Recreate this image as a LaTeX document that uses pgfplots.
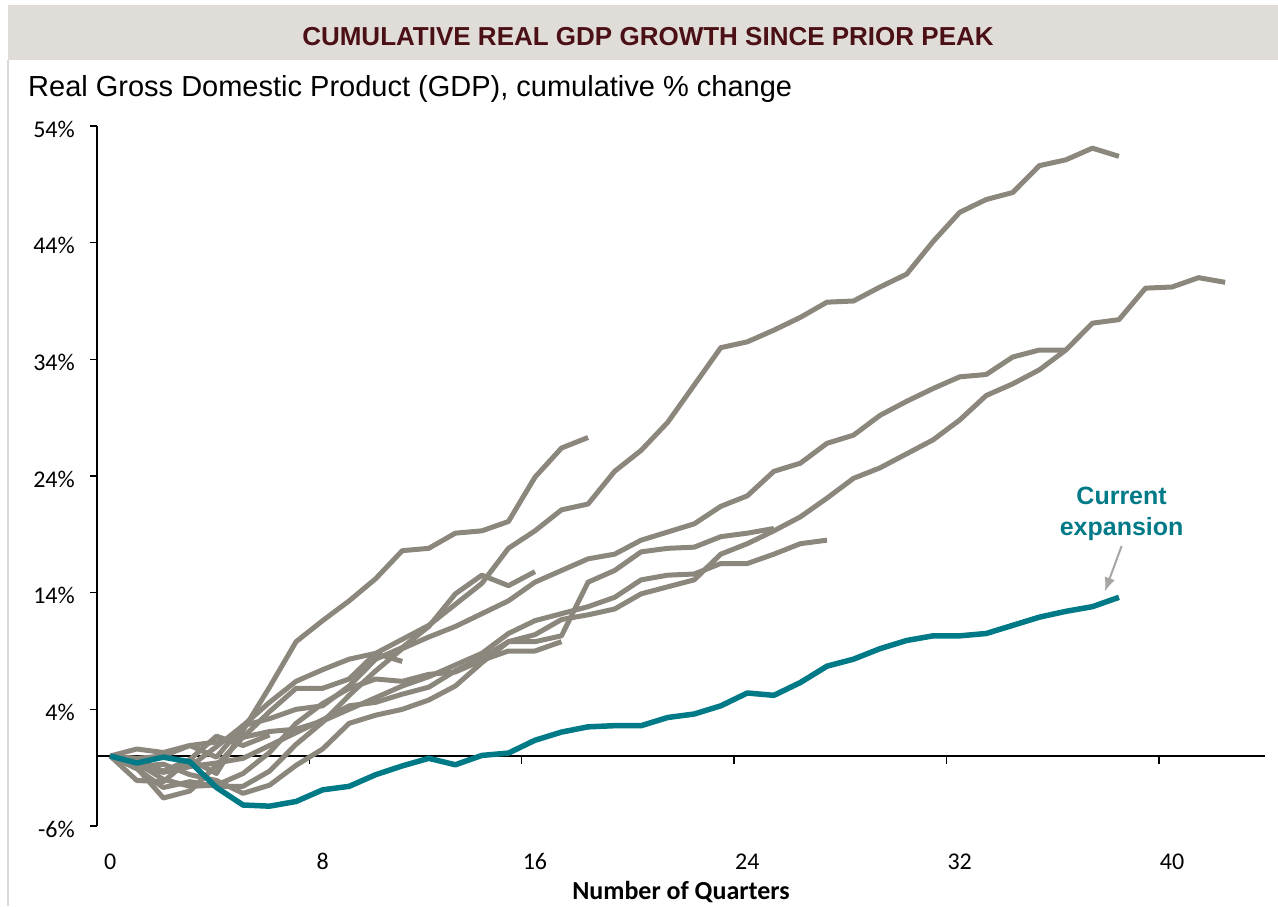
\documentclass[border=0pt]{standalone}
\usepackage{fontspec}
\setmainfont{Liberation Sans}
\newfontfamily\carlito{Carlito}
\usepackage{pgfplots}
\pgfplotsset{compat=1.18}
\usetikzlibrary{arrows.meta}
\definecolor{gline}{HTML}{8C877D}
\definecolor{tealc}{HTML}{007A87}
\definecolor{band}{HTML}{E0DDD9}
\definecolor{maroonc}{HTML}{4B1015}
\definecolor{arrowc}{HTML}{A8A6A2}
\begin{document}
\begin{tikzpicture}[x=1pt,y=1pt]
\path[use as bounding box] (0,0) rectangle (1278,906);
\fill[band] (8,846) rectangle (1278,901);
\draw[black!15, line width=1.5pt] (8,0) -- (8,846);
\node[font=\bfseries\fontsize{26}{26}\selectfont, text=maroonc] at (648,869) {CUMULATIVE REAL GDP GROWTH SINCE PRIOR PEAK};
\node[anchor=base west, font=\fontsize{29}{29}\selectfont, inner sep=0pt] at (28,809) {Real Gross Domestic Product (GDP), cumulative \% change};
\begin{axis}[at={(97pt,80pt)}, anchor=south west, scale only axis,
  width=1168pt, height=700pt,
  xmin=-0.5, xmax=43.5, ymin=-6, ymax=54,
  axis lines*=left,
  x axis line style={draw=none},
  y axis line style={line width=1.5pt},
  xtick={0,8,16,24,32,40}, xticklabels={0,8,16,24,32,40},
  xtick style={draw=none},
  ytick={-6,4,14,24,34,44,54},
  yticklabels={-6\%,4\%,14\%,24\%,34\%,44\%,54\%},
  ytick style={line width=1.5pt, black},
  tick align=outside, major tick length=7pt,
  yticklabel style={font=\carlito\fontsize{24}{24}\selectfont, anchor=east, inner sep=0pt, xshift=-15pt, yshift=-3pt},
  xticklabel style={font=\carlito\fontsize{24}{24}\selectfont, anchor=base, inner sep=0pt, yshift=-36pt},
  xlabel={\carlito\bfseries Number of Quarters},
  xlabel style={font=\fontsize{26}{26}\selectfont, anchor=base, at={(axis description cs:0.5,0)}, yshift=-73pt},
  clip=false,
  every axis plot/.append style={line width=5pt, line join=round, line cap=butt},
]
\draw[black, line width=1.5pt] (axis cs:-0.5,0) -- (axis cs:43.5,0);
\pgfplotsinvokeforeach{7.5,15.5,23.5,31.5,39.5}{\draw[black, line width=1.5pt] (axis cs:#1,0) -- ([yshift=-8pt]axis cs:#1,0);}
% 1948
\addplot[gline] coordinates {(0,0)(1,-1.0)(2,-1.3)(3,-0.3)(4,-1.5)(5,2.2)(6,5.9)(7,9.8)(8,11.6)(9,13.3)(10,15.2)(11,17.6)(12,17.8)(13,19.1)(14,19.3)(15,20.1)(16,23.9)(17,26.4)(18,27.3)};
% 1953
\addplot[gline] coordinates {(0,0)(1,-0.6)(2,-2.0)(3,-2.6)(4,-2.5)(5,-1.5)(6,0.3)(7,2.8)(8,4.5)(9,5.8)(10,6.6)(11,6.4)(12,7.0)(13,7.2)(14,8.2)(15,9.0)(16,9.0)(17,9.8)};
% 1957
\addplot[gline] coordinates {(0,0)(1,-1.0)(2,-3.6)(3,-3.0)(4,-0.8)(5,1.6)(6,3.8)(7,5.8)(8,5.8)(9,6.6)(10,8.8)(11,8.1)};
% 1960
\addplot[gline] coordinates {(0,0)(1,-0.4)(2,-1.3)(3,-0.9)(4,0.8)(5,2.6)(6,4.6)(7,6.4)(8,7.4)(9,8.3)(10,8.8)(11,10.0)(12,11.2)(13,13.0)(14,14.8)(15,17.8)(16,19.3)(17,21.1)(18,21.6)(19,24.4)(20,26.2)(21,28.6)(22,31.8)(23,35.0)(24,35.5)(25,36.5)(26,37.6)(27,38.9)(28,39.0)(29,40.2)(30,41.3)(31,44.1)(32,46.6)(33,47.7)(34,48.3)(35,50.6)(36,51.1)(37,52.1)(38,51.4)};
% 1969
\addplot[gline] coordinates {(0,0)(1,-0.2)(2,0.0)(3,0.9)(4,-0.1)(5,2.6)(6,3.2)(7,4.0)(8,4.3)(9,6.0)(10,8.3)(11,9.3)(12,11.1)(13,13.9)(14,15.5)(15,14.6)(16,15.8)};
% 1973
\addplot[gline] coordinates {(0,0)(1,-0.9)(2,-0.7)(3,-1.6)(4,-2.1)(5,-3.2)(6,-2.5)(7,-0.8)(8,0.6)(9,2.8)(10,3.5)(11,4.0)(12,4.8)(13,6.0)(14,8.0)(15,9.8)(16,9.8)(17,10.3)(18,14.9)(19,15.9)(20,17.5)(21,17.8)(22,17.9)(23,18.8)(24,19.1)(25,19.5)};
% 1980
\addplot[gline] coordinates {(0,0)(1,-2.1)(2,-2.2)(3,-0.3)(4,1.7)(5,0.9)(6,1.8)};
% 1981
\addplot[gline] coordinates {(0,0)(1,-1.1)(2,-2.7)(3,-2.2)(4,-2.6)(5,-2.6)(6,-1.3)(7,1.0)(8,2.9)(9,5.2)(10,7.3)(11,9.2)(12,10.2)(13,11.1)(14,12.2)(15,13.3)(16,14.9)(17,15.9)(18,16.9)(19,17.3)(20,18.5)(21,19.2)(22,19.9)(23,21.4)(24,22.3)(25,24.4)(26,25.1)(27,26.8)(28,27.5)(29,29.2)(30,30.4)(31,31.5)(32,32.5)(33,32.7)(34,34.2)(35,34.8)(36,34.8)};
% 1990
\addplot[gline] coordinates {(0,0)(1,-0.9)(2,-1.4)(3,-0.9)(4,-0.6)(5,-0.2)(6,0.9)(7,2.0)(8,3.1)(9,4.3)(10,4.6)(11,5.3)(12,5.9)(13,7.3)(14,8.4)(15,9.8)(16,10.4)(17,11.7)(18,12.1)(19,12.6)(20,13.9)(21,14.5)(22,15.1)(23,17.3)(24,18.2)(25,19.3)(26,20.5)(27,22.1)(28,23.8)(29,24.7)(30,25.9)(31,27.1)(32,28.8)(33,30.9)(34,31.9)(35,33.1)(36,34.8)(37,37.1)(38,37.4)(39,40.1)(40,40.2)(41,41.0)(42,40.6)};
% 2001
\addplot[gline] coordinates {(0,0)(1,0.6)(2,0.3)(3,0.9)(4,1.2)(5,1.6)(6,2.1)(7,2.3)(8,3.0)(9,4.0)(10,5.0)(11,6.0)(12,6.8)(13,7.8)(14,8.8)(15,10.5)(16,11.6)(17,12.2)(18,12.8)(19,13.6)(20,15.1)(21,15.5)(22,15.6)(23,16.5)(24,16.5)(25,17.3)(26,18.2)(27,18.5)};
% current
\addplot[tealc, line width=5.5pt] coordinates {(0,0)(1,-0.6)(2,-0.1)(3,-0.5)(4,-2.7)(5,-4.2)(6,-4.3)(7,-3.9)(8,-2.9)(9,-2.6)(10,-1.6)(11,-0.85)(12,-0.2)(13,-0.75)(14,0.05)(15,0.25)(16,1.35)(17,2.05)(18,2.5)(19,2.6)(20,2.6)(21,3.3)(22,3.6)(23,4.3)(24,5.4)(25,5.2)(26,6.3)(27,7.7)(28,8.3)(29,9.2)(30,9.9)(31,10.3)(32,10.3)(33,10.5)(34,11.2)(35,11.9)(36,12.4)(37,12.8)(38,13.6)};
\node[align=center, text=tealc, font=\bfseries\fontsize{25}{31}\selectfont] at (axis cs:38.1,20.75) {Current\\expansion};
\draw[arrowc, line width=2pt, -{Latex[length=14pt,width=11pt]}] (axis cs:38.1,18.0) -- (axis cs:37.47,14.1);
\end{axis}
\end{tikzpicture}
\end{document}
